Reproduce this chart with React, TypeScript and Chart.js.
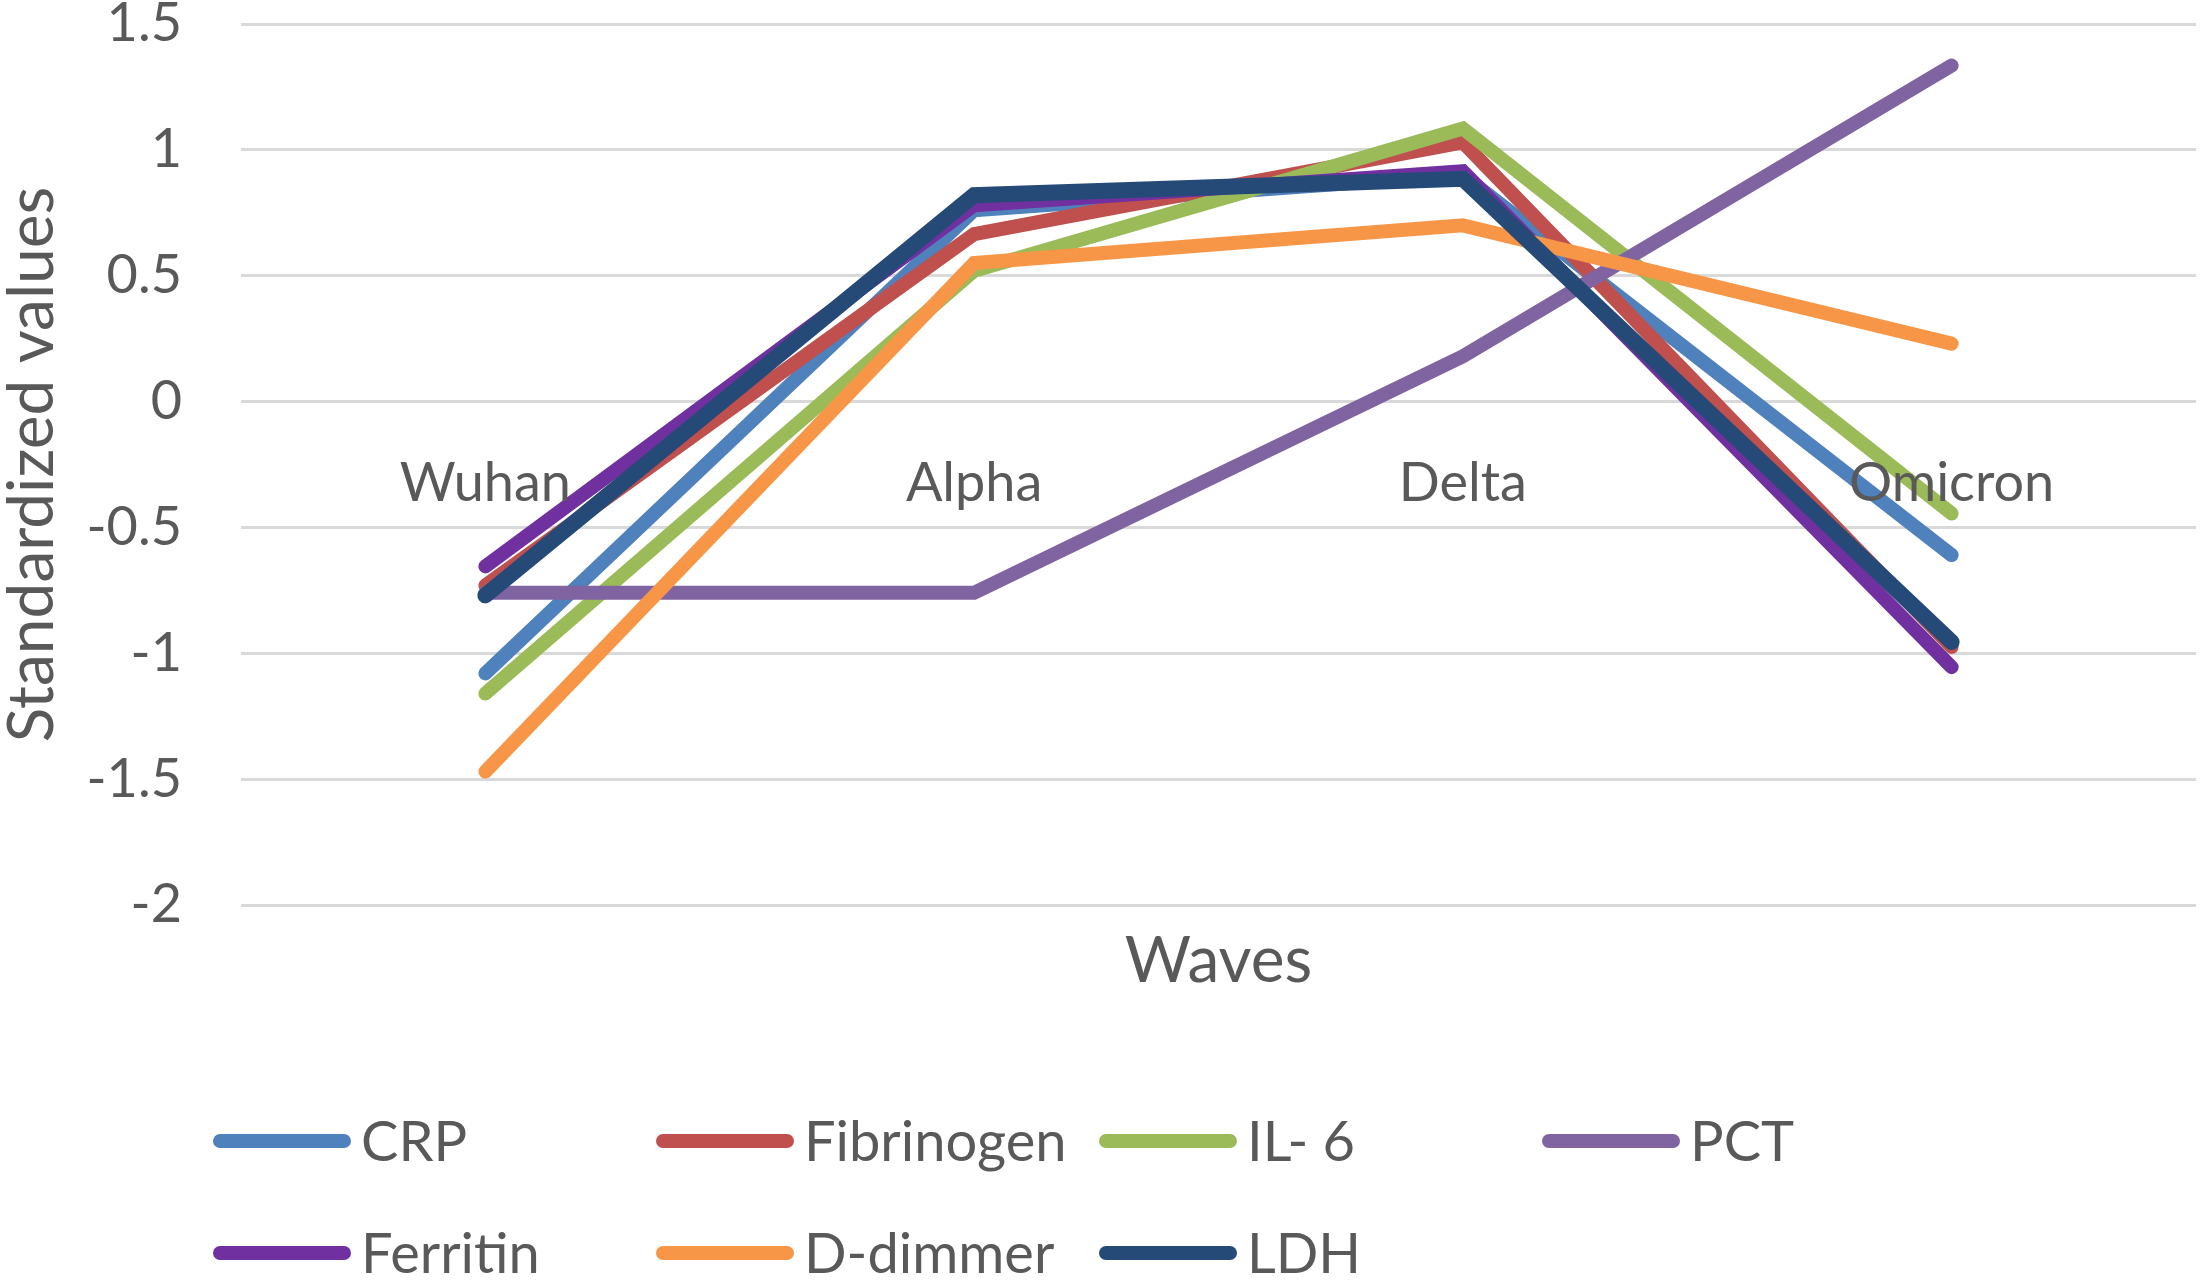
import { useEffect, useRef } from "react"
import { Chart, registerables } from "chart.js"

Chart.register(...registerables)

// chart data
const waves = ["Wuhan", "Alpha", "Delta", "Omicron"]
const seriesNames = ["CRP", "Fibrinogen", "IL- 6", "PCT", "Ferritin", "D-dimmer", "LDH"]
const seriesColors = ["#4f81bd", "#c0504d", "#9bbb59", "#8064a2", "#7030a0", "#f79646", "#264a78"]
const crp = [-1.08, 0.76, 0.9, -0.61]
const fibrinogen = [-0.73, 0.665, 1.03, -0.975]
const il6 = [-1.16, 0.52, 1.085, -0.445]
const pct = [-0.76, -0.76, 0.18, 1.335]
const ferritin = [-0.655, 0.78, 0.915, -1.055]
const dDimmer = [-1.47, 0.55, 0.7, 0.23]
const ldh = [-0.77, 0.82, 0.885, -0.955]
const seriesValues = [crp, fibrinogen, il6, pct, ferritin, dDimmer, ldh]
const yMin = -2
const yMax = 1.5
const yStep = 0.5
const xTitle = "Waves"
const yTitle = "Standardized values"

const font = "Lato, 'Open Sans', sans-serif"
const textColor = "#595959"

// x-axis title and the two-row legend below the plot
const extras = {
  id: "extras",
  afterDraw(chart: any) {
    const { ctx, chartArea } = chart
    ctx.save()
    ctx.fillStyle = textColor
    ctx.font = `64px ${font}`
    ctx.textAlign = "center"
    ctx.textBaseline = "middle"
    ctx.fillText(xTitle, (chartArea.left + chartArea.right) / 2, chartArea.bottom + 56)

    ctx.font = `56px ${font}`
    ctx.textAlign = "left"
    chart.data.datasets.forEach((ds: any, i: number) => {
      const col = i % 4
      const row = Math.floor(i / 4)
      const x = 213 + col * 443
      const y = chartArea.bottom + 236 + row * 112
      ctx.strokeStyle = ds.borderColor
      ctx.lineWidth = 14
      ctx.lineCap = "round"
      ctx.beginPath()
      ctx.moveTo(x + 7, y)
      ctx.lineTo(x + 131, y)
      ctx.stroke()
      ctx.fillStyle = textColor
      ctx.fillText(ds.label, x + 148, y + 2)
    })
    ctx.restore()
  },
}

const LineChart = () => {
  const chartRef = useRef<HTMLCanvasElement>(null)

  useEffect(() => {
    if (!chartRef.current) return
    const n = seriesNames.length
    const myChart = new Chart(chartRef.current, {
      type: "line",
      data: {
        labels: waves,
        datasets: seriesNames.map((name, i) => ({
          label: name,
          data: seriesValues[i],
          borderColor: seriesColors[i],
          backgroundColor: seriesColors[i],
          borderWidth: name === "LDH" ? 16 : 14,
          borderCapStyle: "round",
          borderJoinStyle: "miter",
          pointRadius: 0,
          tension: 0,
          order: n - 1 - i,
        })),
      },
      options: {
        animation: false,
        responsive: true,
        maintainAspectRatio: false,
        devicePixelRatio: 1,
        layout: { padding: { top: 24, right: 4, bottom: 379, left: 0 } },
        plugins: {
          legend: { display: false },
          tooltip: { enabled: false },
        },
        scales: {
          x: {
            type: "category",
            offset: true,
            position: { y: 0 },
            grid: { display: false, drawTicks: false },
            border: { display: false },
            ticks: {
              z: 1, // category names sit on top of the lines
              color: textColor,
              font: { family: font, size: 54 },
              padding: 50,
              maxRotation: 0,
            },
          },
          y: {
            min: yMin,
            max: yMax,
            grid: { color: "#d9d9d9", lineWidth: 3, drawTicks: false },
            border: { display: false },
            ticks: {
              stepSize: yStep,
              color: textColor,
              font: { family: font, size: 54 },
              padding: 59,
              callback: (v: any) => String(v),
            },
            title: {
              display: true,
              text: yTitle,
              color: textColor,
              font: { family: font, size: 64, lineHeight: 1 },
              padding: 0,
            },
            afterFit: (scale: any) => {
              scale.width = 241
              scale.paddingTop = 0
              scale.paddingBottom = 0
            },
          },
        },
      },
      plugins: [extras],
    })

    return () => {
      myChart.destroy()
    }
  }, [])

  return <canvas ref={chartRef} />
}

export default function App() {
  return (
    <div
      style={{
        position: "absolute",
        left: 0,
        top: 0,
        width: 2200,
        height: 1284,
        background: "#fff",
      }}
    >
      <LineChart />
    </div>
  )
}
